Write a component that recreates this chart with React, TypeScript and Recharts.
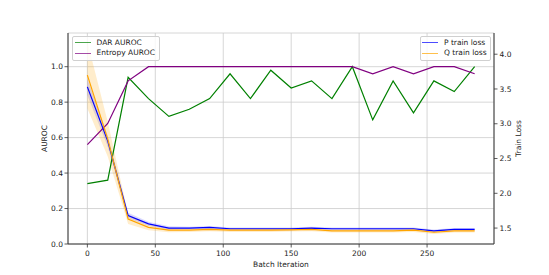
import React from 'react';
import { ComposedChart, Line, Area, XAxis, YAxis, CartesianGrid } from 'recharts';

const iterations = [0, 15, 30, 45, 60, 75, 90, 105, 120, 135, 150, 165, 180, 195, 210, 225, 240, 255, 270, 285];
const darAuroc = [0.34, 0.36, 0.94, 0.82, 0.72, 0.76, 0.82, 0.96, 0.82, 0.98, 0.88, 0.92, 0.82, 1.0, 0.70, 0.92, 0.74, 0.92, 0.86, 1.0];
const entropyAuroc = [0.56, 0.68, 0.92, 1.0, 1.0, 1.0, 1.0, 1.0, 1.0, 1.0, 1.0, 1.0, 1.0, 1.0, 0.96, 1.0, 0.96, 1.0, 1.0, 0.96];
const pLoss = [3.53, 2.75, 1.68, 1.56, 1.50, 1.50, 1.51, 1.49, 1.49, 1.49, 1.49, 1.50, 1.49, 1.49, 1.49, 1.49, 1.49, 1.46, 1.48, 1.48];
const qLoss = [3.70, 2.78, 1.63, 1.51, 1.47, 1.47, 1.48, 1.47, 1.47, 1.47, 1.475, 1.48, 1.46, 1.46, 1.46, 1.46, 1.47, 1.44, 1.46, 1.46];
const pStd = [0.12, 0.08, 0.04, 0.03, 0.025, 0.02, 0.02, 0.02, 0.02, 0.02, 0.02, 0.02, 0.02, 0.02, 0.02, 0.02, 0.02, 0.02, 0.02, 0.02];
const qStd = [0.48, 0.25, 0.07, 0.04, 0.03, 0.025, 0.025, 0.025, 0.025, 0.025, 0.025, 0.025, 0.025, 0.025, 0.025, 0.025, 0.025, 0.025, 0.025, 0.025];

const xTicks = [0, 50, 100, 150, 200, 250];
const leftTicks = [0, 0.2, 0.4, 0.6, 0.8, 1.0];
const rightTicks = [1.5, 2.0, 2.5, 3.0, 3.5, 4.0];

const rows = iterations.map((x, i) => ({
  x,
  dar: darAuroc[i],
  ent: entropyAuroc[i],
  p: pLoss[i],
  q: qLoss[i],
  pBand: [pLoss[i] - pStd[i], pLoss[i] + pStd[i]],
  qBand: [qLoss[i] - qStd[i], qLoss[i] + qStd[i]],
}));

const FONT = "'DejaVu Sans', sans-serif";
const tickStyle = { fontSize: 7.5, fill: '#222', fontFamily: FONT };
const AX = '#333';

const legendBox: React.CSSProperties = {
  position: 'absolute',
  border: '1px solid #d0d0d0',
  borderRadius: 2,
  background: 'rgba(255,255,255,0.8)',
  boxSizing: 'border-box',
};

function LegendRow({ color, label, top, swX, txtX }: { color: string; label: string; top: number; swX: number; txtX: number }) {
  return (
    <>
      <div style={{ position: 'absolute', left: swX, top: top - 0.75, width: 16, height: 1.5, background: color, opacity: 0.7 }} />
      <div style={{ position: 'absolute', left: txtX, top: top - 5, lineHeight: '10px', whiteSpace: 'nowrap', fontFamily: FONT, fontSize: 7.5, color: '#222' }}>{label}</div>
    </>
  );
}

export default function App() {
  return (
    <div style={{ position: 'absolute', left: 0, top: 0, width: 549, height: 275, background: '#fff', fontFamily: FONT }}>
      <ComposedChart width={549} height={275} data={rows} margin={{ top: 33, right: 10, bottom: 9, left: 8 }}>
        <CartesianGrid xAxisId="b" yAxisId="l" stroke="#cccccc" strokeWidth={0.8} />
        <XAxis
          xAxisId="b"
          dataKey="x"
          type="number"
          domain={[-14.25, 299.25]}
          ticks={xTicks}
          allowDataOverflow
          height={22}
          tick={tickStyle}
          tickSize={3.5}
          tickMargin={3}
          stroke={AX}
          axisLine={{ stroke: AX, strokeWidth: 1 }}
          tickLine={{ stroke: AX, strokeWidth: 0.8 }}
          label={{
            content: () => (
              <text x={281} y={266.5} textAnchor="middle" style={{ fontSize: 7.5, fill: '#222', fontFamily: FONT }}>
                Batch Iteration
              </text>
            ),
          }}
        />
        <XAxis
          xAxisId="t"
          orientation="top"
          dataKey="x"
          type="number"
          domain={[-14.25, 299.25]}
          allowDataOverflow
          height={0}
          tick={false}
          tickLine={false}
          axisLine={{ stroke: AX, strokeWidth: 1 }}
        />
        <YAxis
          yAxisId="l"
          type="number"
          domain={[0, 1.19]}
          allowDataOverflow
          ticks={leftTicks}
          width={60}
          tick={tickStyle}
          tickSize={3.5}
          tickMargin={1.5}
          tickFormatter={(v: number) => v.toFixed(1)}
          axisLine={{ stroke: AX, strokeWidth: 1 }}
          tickLine={{ stroke: AX, strokeWidth: 0.8 }}
          label={{
            content: () => (
              <text x={46.5} y={138.5} textAnchor="middle" transform="rotate(-90 46.5 138.5)" style={{ fontSize: 7.5, fill: '#222', fontFamily: FONT }}>
                AUROC
              </text>
            ),
          }}
        />
        <YAxis
          yAxisId="r"
          orientation="right"
          type="number"
          domain={[1.271, 4.305]}
          allowDataOverflow
          ticks={rightTicks}
          width={45}
          tick={tickStyle}
          tickSize={3.5}
          tickMargin={2}
          tickFormatter={(v: number) => v.toFixed(1)}
          axisLine={{ stroke: AX, strokeWidth: 1 }}
          tickLine={{ stroke: AX, strokeWidth: 0.8 }}
          label={{
            content: () => (
              <text x={521} y={138.5} textAnchor="middle" transform="rotate(-90 521 138.5)" style={{ fontSize: 7.5, fill: '#222', fontFamily: FONT }}>
                Train Loss
              </text>
            ),
          }}
        />
        <Line xAxisId="b" yAxisId="l" type="linear" dataKey="dar" stroke="#008000" strokeWidth={1.2} dot={false} isAnimationActive={false} />
        <Line xAxisId="b" yAxisId="l" type="linear" dataKey="ent" stroke="#800080" strokeWidth={1.2} dot={false} isAnimationActive={false} />
        <Area xAxisId="b" yAxisId="r" type="linear" dataKey="pBand" stroke="none" fill="#0000ff" fillOpacity={0.15} isAnimationActive={false} />
        <Line xAxisId="b" yAxisId="r" type="linear" dataKey="p" stroke="#0000ff" strokeWidth={1.2} dot={false} isAnimationActive={false} />
        <Area xAxisId="b" yAxisId="r" type="linear" dataKey="qBand" stroke="none" fill="#ffa500" fillOpacity={0.2} isAnimationActive={false} />
        <Line xAxisId="b" yAxisId="r" type="linear" dataKey="q" stroke="#ffa500" strokeWidth={1.2} dot={false} isAnimationActive={false} />
      </ComposedChart>
      <div style={{ ...legendBox, left: 72, top: 35.7, width: 87.5, height: 25.7 }} />
      <LegendRow color="#008000" label="DAR AUROC" top={42.7} swX={75} txtX={96.5} />
      <LegendRow color="#800080" label="Entropy AUROC" top={53.3} swX={75} txtX={96.5} />
      <div style={{ ...legendBox, left: 419.5, top: 35.7, width: 71.5, height: 25.2 }} />
      <LegendRow color="#0000ff" label="P train loss" top={42.7} swX={422} txtX={444} />
      <LegendRow color="#ffa500" label="Q train loss" top={53.3} swX={422} txtX={444} />
    </div>
  );
}
